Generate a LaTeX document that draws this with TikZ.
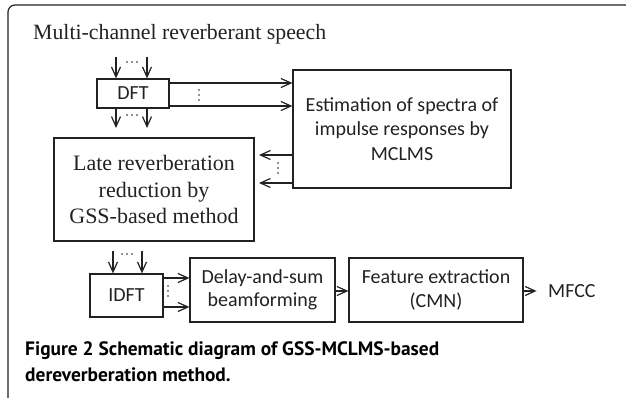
\documentclass[tikz,border=0pt]{standalone}
\usepackage{fontspec}
\setmainfont{Liberation Serif}
\newfontfamily\boxfont{Carlito}
\newfontfamily\capfont{PT Sans}
\usetikzlibrary{arrows.meta}

\definecolor{ink}{HTML}{222222}

\tikzset{
  blk/.style={draw=ink, line width=1.2pt, rectangle, inner sep=0pt, align=center,
              font=\boxfont\fontsize{20}{24.5}\selectfont, text=ink},
  serifblk/.style={blk, font=\fontsize{22}{26.5}\selectfont},
  arr/.style={draw=ink, line width=1.2pt, -{Straight Barb[length=10pt,width=9pt,line width=1.2pt]}},
  dotmark/.style={fill=ink, draw=none},
  captext/.style={anchor=west, inner sep=0pt, align=left, text=black,
                  font=\capfont\bfseries\fontsize{19.4}{20}\selectfont},
}

\begin{document}
\begin{tikzpicture}[x=1pt, y=-1pt]
  \useasboundingbox (0,0) rectangle (626,398);

  % frame around figure and caption
  \draw[ink, line width=1.2pt, rounded corners=7pt] (640,5) -- (8,5) -- (8,410) -- (640,410);

  % title
  \node[anchor=west, inner sep=0pt, font=\fontsize{21.8}{26}\selectfont, text=ink] (title) at (33,34) {Multi-channel reverberant speech};

  % blocks
  \node[blk, minimum width=72pt, minimum height=29pt] (dft) at (133,93.5) {DFT};
  \node[blk, minimum width=218pt, minimum height=118pt] (est) at (402,129) {Estimation of spectra of\\impulse responses by\\MCLMS};
  \node[serifblk, minimum width=200pt, minimum height=103pt] (late) at (154,189.5) {Late reverberation\\reduction by\\GSS-based method};
  \node[blk, minimum width=73pt, minimum height=43pt] (idft) at (126.5,295.5) {IDFT};
  \node[blk, minimum width=145pt, minimum height=64pt, font=\boxfont\fontsize{20}{23.5}\selectfont] (das) at (262.5,290) {Delay-and-sum\\beamforming};
  \node[blk, minimum width=174pt, minimum height=64pt] (feat) at (436,290) {Feature extraction\\(CMN)};
  \node[anchor=west, inner sep=0pt, font=\boxfont\fontsize{20}{24}\selectfont, text=ink] (mfcc) at (548,291) {MFCC};

  % free ends of connectors
  \coordinate (in1) at (116,57);
  \coordinate (in2) at (147,57);
  \coordinate (out1) at (116,128);
  \coordinate (out2) at (147,128);
  \coordinate (fb1) at (259,155);
  \coordinate (fb2) at (259,183);
  \coordinate (id1) at (113,251);
  \coordinate (id2) at (142,251);

  % connectors
  \draw[arr] (in1) -- (in1 |- dft.north);
  \draw[arr] (in2) -- (in2 |- dft.north);
  \draw[arr] (out1 |- dft.south) -- (out1);
  \draw[arr] (out2 |- dft.south) -- (out2);
  \draw[arr] (dft.east |- 0,83) -- (est.west |- 0,83);
  \draw[arr] (dft.east |- 0,106) -- (est.west |- 0,106);
  \draw[arr] (est.west |- fb1) -- (fb1);
  \draw[arr] (est.west |- fb2) -- (fb2);
  \draw[arr] (id1) -- (id1 |- idft.north);
  \draw[arr] (id2) -- (id2 |- idft.north);
  \draw[arr] (idft.east |- 0,278) -- (das.west |- 0,278);
  \draw[arr] (idft.east |- 0,307) -- (das.west |- 0,307);
  \draw[arr] (das.east |- 0,291) -- (feat.west |- 0,291);
  \draw[arr] (feat.east |- mfcc) -- ++(13,0);

  % ellipsis dots between parallel channels
  \foreach \x in {127,132,137} \fill[dotmark] (\x,62) circle (0.9pt);
  \foreach \x in {127,132,137} \fill[dotmark] (\x,115) circle (0.9pt);
  \foreach \x in {122,127,132} \fill[dotmark] (\x,254) circle (0.9pt);
  \foreach \y in {90,95,100} \fill[dotmark] (199,\y) circle (0.9pt);
  \foreach \y in {163,168,173} \fill[dotmark] (278,\y) circle (0.9pt);
  \foreach \y in {286,291,296} \fill[dotmark] (168,\y) circle (0.9pt);

  % caption
  \node[captext] (cap) at (25,351) {Figure 2 Schematic diagram of GSS-MCLMS-based};
  \node[captext] (cap2) at (25,375) {dereverberation method.};
\end{tikzpicture}
\end{document}
